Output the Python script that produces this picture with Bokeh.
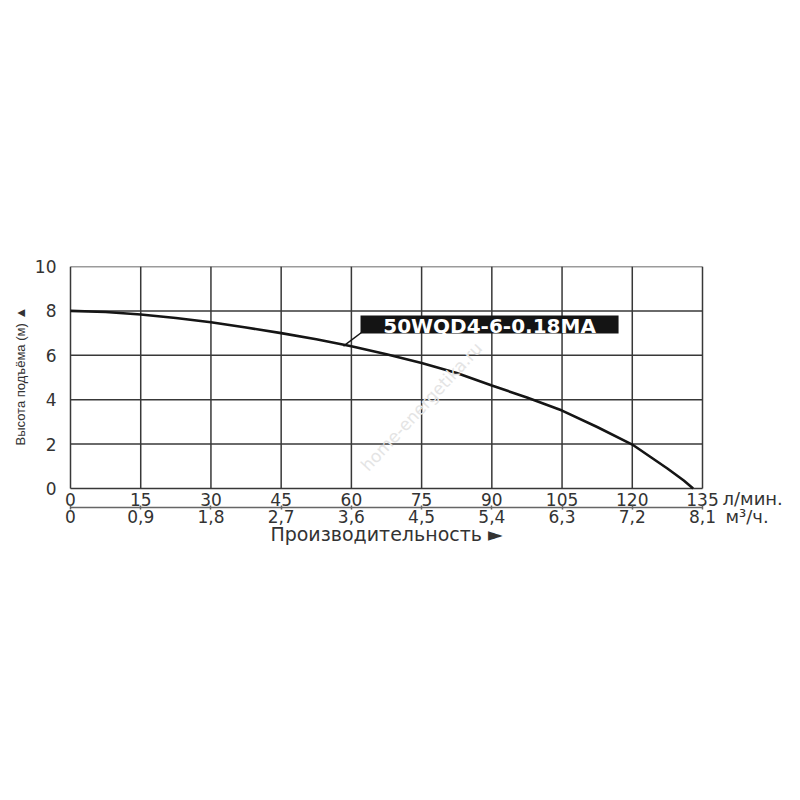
from bokeh.plotting import figure
from bokeh.models import LinearAxis, FixedTicker, Label, Range1d, BoxAnnotation, Title
from bokeh.embed import file_html
from bokeh.resources import INLINE
import math

# ---- data ----
flow_lpm = [0, 7.5, 15, 22.5, 30, 37.5, 45, 52.5, 60, 67.5, 75, 82.5, 90, 97.5,
            105, 112.5, 120, 127.5, 131, 133]
head_m = [8.0, 7.95, 7.84, 7.68, 7.49, 7.25, 7.0, 6.72, 6.41, 6.05, 5.65, 5.2, 4.64, 4.1,
          3.51, 2.77, 1.98, 0.9, 0.36, 0.0]
x_ticks = [0, 15, 30, 45, 60, 75, 90, 105, 120, 135]
m3h_labels = ["0", "0,9", "1,8", "2,7", "3,6", "4,5", "5,4", "6,3", "7,2", "8,1"]
y_ticks = [0, 2, 4, 6, 8, 10]
model_name = "50WQD4-6-0.18MA"
leader_from = (58.3, 6.41)
leader_to = (62.3, 7.05)
label_box = dict(left=61.95, right=117.07, bottom=6.98, top=7.79)
m3h_axis_at = -0.856

FONT = "DejaVu Sans"
GRID = "#383838"
TXT = "#333333"

# frame geometry (pixels)
W, H = 784, 700
FL, FT = 64, 266          # frame left/top
X0_PX = 70                # pixel position of flow = 0
PX_X = 632 / 135.0
PX_Y = 22.2
x_min = -(X0_PX - FL) / PX_X
x_max = (W - X0_PX) / PX_X
frame_h = 284
y_min = 10 - frame_h / PX_Y

p = figure(width=W, height=H, output_backend="svg", toolbar_location=None,
           x_range=Range1d(x_min, x_max), y_range=Range1d(y_min, 10),
           x_axis_location=None, y_axis_location=None,
           min_border_left=FL, min_border_right=0, min_border_top=FT,
           min_border_bottom=H - FT - frame_h)
p.background_fill_color = "white"
p.border_fill_color = "white"
p.outline_line_color = None
p.xgrid.visible = False
p.ygrid.visible = False

# left axis
ya = LinearAxis(ticker=FixedTicker(ticks=y_ticks))
ya.axis_line_color = None
ya.major_tick_line_color = None
ya.minor_tick_line_color = None
ya.major_label_standoff = 2
ya.major_label_text_font = FONT
ya.major_label_text_font_size = "17px"
ya.major_label_text_color = TXT
p.add_layout(ya, "left")

# y-axis title, starting 105 px above the frame bottom
ytitle = Title(text="Высота подъёма (м) ▲", align="left", offset=105,
               text_font="Liberation Sans", text_font_size="13px",
               text_font_style="normal", text_color=TXT, standoff=8)
p.add_layout(ytitle, "left")

# bottom axis 1 (l/min) at y = 0
xa = LinearAxis(ticker=FixedTicker(ticks=x_ticks), fixed_location=0,
                bounds=(x_ticks[0], x_ticks[-1]))
xa.axis_line_color = None
xa.major_tick_line_color = None
xa.minor_tick_line_color = None
xa.major_label_standoff = -2
xa.major_label_text_font = FONT
xa.major_label_text_font_size = "17px"
xa.major_label_text_color = TXT
p.add_layout(xa, "below")

# bottom axis 2 (m3/h)
xb = LinearAxis(ticker=FixedTicker(ticks=x_ticks), fixed_location=m3h_axis_at,
                bounds=(x_ticks[0], x_ticks[-1]),
                major_label_overrides={t: l for t, l in zip(x_ticks, m3h_labels)})
xb.axis_line_color = "#666666"
xb.axis_line_width = 1.5
xb.major_tick_line_color = "#666666"
xb.major_tick_line_width = 1.5
xb.major_tick_in = 2
xb.major_tick_out = 2
xb.minor_tick_line_color = None
xb.major_label_standoff = 0
xb.major_label_text_font = FONT
xb.major_label_text_font_size = "17px"
xb.major_label_text_color = TXT
xb.axis_label = "Производительность ►"
xb.axis_label_text_font = FONT
xb.axis_label_text_font_size = "19px"
xb.axis_label_text_font_style = "normal"
xb.axis_label_text_color = TXT
xb.axis_label_standoff = -3
p.add_layout(xb, "below")

# grid box
n, m = len(x_ticks), len(y_ticks)
p.segment(x0=x_ticks, y0=[y_ticks[0]] * n, x1=x_ticks, y1=[y_ticks[-1]] * n,
          line_color=GRID, line_width=1.5)
p.segment(x0=[x_ticks[0]] * m, y0=y_ticks, x1=[x_ticks[-1]] * m, y1=y_ticks,
          line_color=GRID, line_width=1.5)

# watermark
p.add_layout(Label(x=75, y=3.69, text="home-energetika.ru", angle=math.radians(47),
                   text_font=FONT, text_font_size="17px", text_color="#e4e4e4",
                   text_align="center", text_baseline="middle"))

# curve
p.line(flow_lpm, head_m, line_color="#151515", line_width=2.6)

# leader + model label
p.line([leader_from[0], leader_to[0]], [leader_from[1], leader_to[1]],
       line_color="#151515", line_width=1.5)
p.add_layout(BoxAnnotation(fill_color="#141414", fill_alpha=1.0, line_color=None,
                           **label_box))
p.add_layout(Label(x=(label_box["left"] + label_box["right"]) / 2,
                   y=(label_box["bottom"] + label_box["top"]) / 2, text=model_name,
                   text_font=FONT, text_font_style="bold", text_font_size="20px",
                   text_color="white", text_align="center", text_baseline="middle",
                   y_offset=-1))

# unit labels
p.add_layout(Label(x=x_ticks[-1], y=0, text="л/мин.", x_offset=20, y_offset=-10,
                   text_font=FONT, text_font_size="18px", text_color=TXT,
                   text_align="left", text_baseline="middle"))
p.add_layout(Label(x=x_ticks[-1], y=0, text="м³/ч.", x_offset=23, y_offset=-28,
                   text_font=FONT, text_font_size="18px", text_color=TXT,
                   text_align="left", text_baseline="middle"))

open("out.html", "w").write(file_html(p, INLINE))
